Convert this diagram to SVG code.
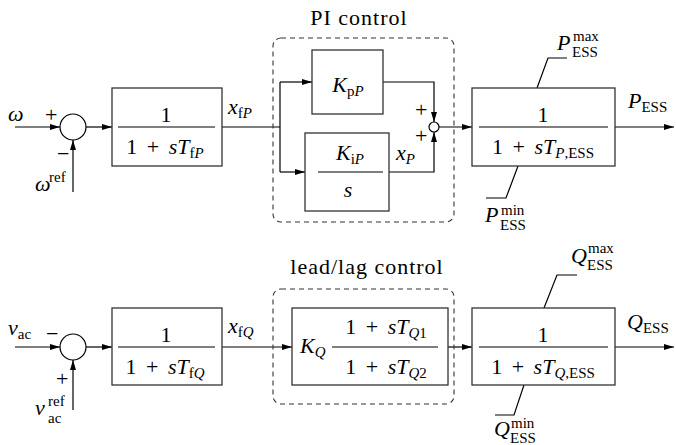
<svg xmlns="http://www.w3.org/2000/svg" width="676" height="445" viewBox="0 0 676 445">
<defs>
<marker id="arr" viewBox="0 0 10 6" refX="10" refY="3" markerWidth="10" markerHeight="6" markerUnits="userSpaceOnUse" orient="auto">
<path d="M0,0 L10,3 L0,6 Z" fill="#000"/>
</marker>
</defs>
<style>
text{font-family:"Liberation Serif","DejaVu Serif",serif;font-size:22px;fill:#000}
.i{font-style:italic}
.s{font-size:15px}
.m{text-anchor:middle}
.f{word-spacing:4px}
.t{letter-spacing:1px}
.box{fill:#fff;stroke:#333;stroke-width:1.3}
.ln{fill:none;stroke:#000;stroke-width:1.2}
.a{marker-end:url(#arr)}
.dash{fill:none;stroke:#333;stroke-width:1.1;stroke-dasharray:5,4}
.sum{fill:#fff;stroke:#000;stroke-width:1.2}
</style>

<g id="connectors">
<line class="ln a" x1="15" y1="127" x2="60" y2="127"/>
<line class="ln a" x1="73" y1="192" x2="73" y2="140"/>
<line class="ln a" x1="86" y1="127" x2="112" y2="127"/>
<polyline class="ln" points="222,127 280,127"/>
<polyline class="ln" points="280,82 280,172"/>
<line class="ln a" x1="280" y1="82" x2="312" y2="82"/>
<line class="ln a" x1="280" y1="172" x2="305" y2="172"/>
<polyline class="ln a" points="383,82 434,82 434,122"/>
<polyline class="ln a" points="389,172 434,172 434,132"/>
<line class="ln a" x1="439" y1="127" x2="472" y2="127"/>
<line class="ln a" x1="615" y1="127" x2="674" y2="127"/>
<polyline class="ln" points="537,88 548,58 567,58"/>
<polyline class="ln" points="518,166 506,198 486,198"/>

<line class="ln a" x1="15" y1="347" x2="60" y2="347"/>
<line class="ln a" x1="73" y1="410" x2="73" y2="360"/>
<line class="ln a" x1="86" y1="347" x2="112" y2="347"/>
<line class="ln a" x1="222" y1="347" x2="292" y2="347"/>
<line class="ln a" x1="448" y1="347" x2="472" y2="347"/>
<line class="ln a" x1="615" y1="347" x2="674" y2="347"/>
<polyline class="ln" points="544,308 557,275 577,275"/>
<polyline class="ln" points="524,385 514,415 495,415"/>
</g>

<g id="pi_group">
<rect class="dash" x="273" y="38" width="181" height="184" rx="8"/>
<text class="m t" x="359" y="25">PI control</text>
</g>
<g id="leadlag_group">
<rect class="dash" x="273" y="289" width="181" height="115" rx="8"/>
<text class="m t" x="367" y="274">lead/lag control</text>
</g>

<g id="sum1">
<circle class="sum" cx="73" cy="127" r="13"/>
<text class="i" x="8" y="121">ω</text>
<text x="45" y="122">+</text>
<text x="57" y="161">−</text>
<text class="i" x="35" y="191">ω</text>
<text class="s" x="49" y="182">ref</text>
</g>

<g id="filterP">
<rect class="box" x="112" y="88" width="110" height="78"/>
<line class="ln" x1="118" y1="127" x2="215" y2="127"/>
<text class="m" x="166" y="122">1</text>
<text class="m f" x="165" y="154">1 + <tspan class="i">sT</tspan><tspan class="s" dy="4">f</tspan><tspan class="s i">P</tspan></text>
<text class="i" x="228" y="114">x<tspan class="s" dy="4" font-style="normal">f</tspan><tspan class="s">P</tspan></text>
</g>

<g id="KpP">
<rect class="box" x="312" y="50" width="71" height="64"/>
<text class="m" x="348" y="92"><tspan class="i">K</tspan><tspan class="s" dy="4">p</tspan><tspan class="s i">P</tspan></text>
</g>

<g id="KiP">
<rect class="box" x="305" y="133" width="84" height="78"/>
<line class="ln" x1="318" y1="172" x2="383" y2="172"/>
<text class="m" x="350" y="160"><tspan class="i">K</tspan><tspan class="s" dy="4">i</tspan><tspan class="s i">P</tspan></text>
<text class="m i" x="348" y="197">s</text>
<text class="i" x="396" y="160">x<tspan class="s" dy="4">P</tspan></text>
</g>

<g id="sum2">
<circle class="sum" cx="434" cy="127" r="5"/>
<text x="415" y="117">+</text>
<text x="415" y="143">+</text>
</g>

<g id="limP">
<rect class="box" x="472" y="88" width="143" height="78"/>
<line class="ln" x1="479" y1="127" x2="608" y2="127"/>
<text class="m" x="543" y="122">1</text>
<text class="m f" x="543" y="154">1 + <tspan class="i">sT</tspan><tspan class="s" dy="4"><tspan class="i">P</tspan>,ESS</tspan></text>
<text class="i" x="557" y="50">P</text>
<text class="s" x="573" y="41">max</text>
<text class="s" x="572" y="57">ESS</text>
<text class="i" x="485" y="222">P</text>
<text class="s" x="501" y="215">min</text>
<text class="s" x="500" y="230">ESS</text>
<text x="628" y="108"><tspan class="i">P</tspan><tspan class="s" dy="4">ESS</tspan></text>
</g>

<g id="sum3">
<circle class="sum" cx="73" cy="347" r="13"/>
<text class="i" x="8" y="335">v<tspan class="s" dy="4" font-style="normal">ac</tspan></text>
<text x="46" y="341">−</text>
<text x="56" y="386">+</text>
<text class="i" x="35" y="415">v</text>
<text class="s" x="48" y="406">ref</text>
<text class="s" x="48" y="423">ac</text>
</g>

<g id="filterQ">
<rect class="box" x="112" y="308" width="110" height="77"/>
<line class="ln" x1="118" y1="347" x2="215" y2="347"/>
<text class="m" x="166" y="342">1</text>
<text class="m f" x="165" y="374">1 + <tspan class="i">sT</tspan><tspan class="s" dy="4">f</tspan><tspan class="s i">Q</tspan></text>
<text class="i" x="228" y="333">x<tspan class="s" dy="4" font-style="normal">f</tspan><tspan class="s">Q</tspan></text>
</g>

<g id="leadlag">
<rect class="box" x="292" y="308" width="156" height="77"/>
<line class="ln" x1="332" y1="347" x2="438" y2="347"/>
<text class="i" x="300" y="353">K<tspan class="s" dy="4">Q</tspan></text>
<text class="m f" x="386" y="334">1 + <tspan class="i">sT</tspan><tspan class="s" dy="4"><tspan class="i">Q</tspan>1</tspan></text>
<text class="m f" x="386" y="374">1 + <tspan class="i">sT</tspan><tspan class="s" dy="4"><tspan class="i">Q</tspan>2</tspan></text>
</g>

<g id="limQ">
<rect class="box" x="472" y="308" width="143" height="77"/>
<line class="ln" x1="479" y1="347" x2="608" y2="347"/>
<text class="m" x="543" y="342">1</text>
<text class="m f" x="543" y="374">1 + <tspan class="i">sT</tspan><tspan class="s" dy="4"><tspan class="i">Q</tspan>,ESS</tspan></text>
<text class="i" x="571" y="263">Q</text>
<text class="s" x="588" y="253">max</text>
<text class="s" x="587" y="270">ESS</text>
<text class="i" x="494" y="436">Q</text>
<text class="s" x="511" y="428">min</text>
<text class="s" x="510" y="443">ESS</text>
<text x="627" y="329"><tspan class="i">Q</tspan><tspan class="s" dy="4">ESS</tspan></text>
</g>
</svg>
